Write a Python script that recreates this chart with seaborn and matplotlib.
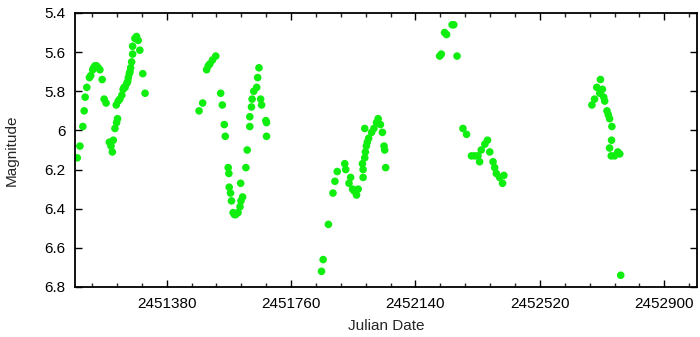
import numpy as np
import pandas as pd
import matplotlib
matplotlib.use("Agg")
import matplotlib.pyplot as plt
import seaborn as sns
from matplotlib.ticker import MultipleLocator, FixedLocator

jd = [
    # season 1
    2451107, 2451115, 2451124, 2451128, 2451131, 2451136, 2451144, 2451148, 2451154, 2451157,
    2451161, 2451166, 2451171, 2451176, 2451183, 2451189, 2451195, 2451205, 2451210, 2451214,
    2451217, 2451222, 2451227, 2451230, 2451226, 2451232, 2451237, 2451243, 2451247, 2451250,
    2451253, 2451258, 2451261, 2451263, 2451266, 2451268, 2451270, 2451273, 2451276, 2451276,
    2451283, 2451288, 2451293, 2451298, 2451307, 2451314,
    # season 2
    2451479, 2451490, 2451502, 2451507, 2451512, 2451520, 2451530, 2451545, 2451550, 2451556,
    2451559, 2451568, 2451570, 2451571, 2451575, 2451578, 2451583, 2451587, 2451591, 2451598,
    2451604, 2451607, 2451612, 2451606, 2451622, 2451626, 2451634, 2451634, 2451639, 2451641,
    2451646, 2451655, 2451658, 2451662, 2451667, 2451670, 2451683, 2451685, 2451685,
    # season 3
    2451853, 2451858, 2451874, 2451888, 2451894, 2451901, 2451924, 2451927, 2451942, 2451937,
    2451948, 2451953, 2451960, 2451965, 2451980, 2451980, 2451978, 2451985, 2451987, 2451990,
    2451993, 2451997, 2451985, 2452006, 2452013, 2452021, 2452026, 2452033, 2452039, 2452044,
    2452046, 2452049,
    # season 4
    2452214, 2452219, 2452229, 2452235, 2452252, 2452257, 2452267, 2452285, 2452296, 2452311,
    2452321, 2452331, 2452336, 2452341, 2452352, 2452360, 2452367, 2452377, 2452382, 2452387,
    2452397, 2452410, 2452406,
    # season 5
    2452679, 2452687, 2452694, 2452705, 2452703, 2452711, 2452715, 2452718, 2452725, 2452729,
    2452733, 2452740, 2452739, 2452733, 2452738, 2452748, 2452758, 2452764, 2452767,
]

magnitude = [
    6.14, 6.08, 5.98, 5.90, 5.83, 5.78, 5.73, 5.72, 5.69, 5.68,
    5.67, 5.67, 5.68, 5.69, 5.74, 5.84, 5.86, 6.06, 6.08, 6.11,
    6.05, 5.99, 5.96, 5.94, 5.87, 5.85, 5.84, 5.82, 5.79, 5.78,
    5.78, 5.76, 5.75, 5.73, 5.71, 5.70, 5.68, 5.65, 5.61, 5.57,
    5.53, 5.52, 5.54, 5.59, 5.71, 5.81,
    5.90, 5.86, 5.69, 5.67, 5.66, 5.64, 5.62, 5.81, 5.87, 5.97,
    6.03, 6.19, 6.22, 6.29, 6.32, 6.36, 6.42, 6.43, 6.43, 6.42,
    6.39, 6.36, 6.34, 6.27, 6.19, 6.10, 5.98, 5.93, 5.88, 5.84,
    5.80, 5.78, 5.73, 5.68, 5.84, 5.87, 5.95, 5.96, 6.03,
    6.72, 6.66, 6.48, 6.32, 6.26, 6.21, 6.17, 6.20, 6.24, 6.27,
    6.30, 6.31, 6.33, 6.30, 6.24, 6.20, 6.17, 6.14, 6.11, 6.08,
    6.06, 6.04, 5.99, 6.01, 5.99, 5.96, 5.94, 5.97, 6.01, 6.08,
    6.10, 6.19,
    5.62, 5.61, 5.50, 5.51, 5.46, 5.46, 5.62, 5.99, 6.02, 6.13,
    6.13, 6.13, 6.16, 6.10, 6.07, 6.05, 6.11, 6.16, 6.19, 6.22,
    6.24, 6.23, 6.27,
    5.87, 5.84, 5.78, 5.74, 5.81, 5.79, 5.83, 5.85, 5.90, 5.92,
    5.94, 5.98, 6.05, 6.09, 6.13, 6.13, 6.11, 6.12, 6.74,
]

x_ticks = [2451380, 2451760, 2452140, 2452520, 2452900]
y_ticks = [5.4, 5.6, 5.8, 6.0, 6.2, 6.4, 6.6, 6.8]
y_tick_labels = ["5.4", "5.6", "5.8", "6", "6.2", "6.4", "6.6", "6.8"]

df = pd.DataFrame({"Julian Date": jd, "Magnitude": magnitude})

sns.set_theme(style="ticks")
plt.rcParams["font.family"] = ["Liberation Sans", "DejaVu Sans"]

fig = plt.figure(figsize=(7.0, 3.37), dpi=100)
ax = fig.add_axes([75 / 700, 50 / 337, 622 / 700, 274 / 337])

sns.scatterplot(data=df, x="Julian Date", y="Magnitude", ax=ax,
                color="#10ee10", s=30, edgecolor="none", linewidth=0)

ax.set_xlim(2451100, 2453000)
ax.set_ylim(6.8, 5.4)
ax.xaxis.set_major_locator(FixedLocator(x_ticks))
ax.xaxis.set_minor_locator(MultipleLocator(76))
ax.set_xticklabels([str(v) for v in x_ticks])
ax.set_yticks(y_ticks)
ax.set_yticklabels(y_tick_labels)

ax.tick_params(axis="both", which="major", direction="in", length=5, width=1,
               top=True, right=True, labelsize=11, colors="black", pad=7)
ax.tick_params(axis="both", which="minor", direction="in", length=3, width=1,
               top=True, right=True)
ax.tick_params(axis="y", which="minor", left=False, right=False)

for sp in ax.spines.values():
    sp.set_visible(True)
    sp.set_color("black")
    sp.set_linewidth(1.3)

ax.set_xlabel("Julian Date", fontsize=11, labelpad=6)
ax.set_ylabel("Magnitude", fontsize=11)
ax.yaxis.set_label_coords(-0.09, 0.5)

fig.savefig("out.png", dpi=100)
